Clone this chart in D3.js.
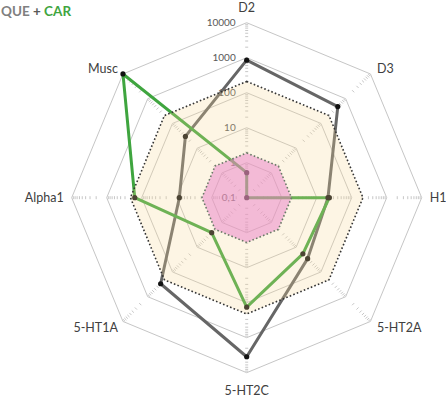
<!DOCTYPE html>
<html><head><meta charset="utf-8">
<script src="https://cdn.jsdelivr.net/npm/d3@7"></script>
<style>html,body{margin:0;padding:0;background:#fff;}svg{display:block;}</style>
</head><body>
<svg id="chart" width="446" height="396"></svg>
<script>
const axes = ["D2","D3","H1","5-HT2A","5-HT2C","5-HT1A","Alpha1","Musc"];
const que = [850, 480, 21, 29, 3500, 300, 8.4, 30];
const car = [0.52, 0.1, 23, 18.6, 134, 2.6, 158, 10000];
const pinkLevel = 1.9;
const yellowLevel = 210;
const tickValues = [0.1, 1, 10, 100, 1000, 10000];
const tickLabels = ["0,1","1","10","100","1000","10000"];

const svg = d3.select("#chart");
const cx = 246.7, cy = 197.7, R = 175;
const r = d3.scaleLog().domain([0.1, 10000]).range([0, R]);
const ang = d3.scaleLinear().domain([0, axes.length]).range([0, 2*Math.PI]);
const pt = (i, v) => [cx + r(v)*Math.sin(ang(i)), cy - r(v)*Math.cos(ang(i))];
const line = d3.line().curve(d3.curveLinearClosed);

// rings
const g = svg.append("g");
tickValues.slice(1).forEach(t => {
  g.append("path").attr("d", line(axes.map((a,i)=>pt(i,t))))
   .attr("fill","none").attr("stroke","#c6c6c6").attr("stroke-width",1);
});
// minor ticks along axes
const minors = [];
for (let d=-1; d<=3; d++) for (let m=2; m<=9; m++) minors.push(m*Math.pow(10,d));
axes.forEach((a,i)=>{
  const th = ang(i);
  const px = Math.cos(th), py = Math.sin(th);
  minors.forEach(v=>{
    const [x,y] = pt(i,v);
    g.append("line").attr("x1",x-px*1.5).attr("y1",y-py*1.5)
     .attr("x2",x+px*1.5).attr("y2",y+py*1.5)
     .attr("stroke","#c6c6c6").attr("stroke-width",1);
  });
});
// tick labels
tickValues.forEach((t,k)=>{
  svg.append("text").attr("x", cx-11).attr("y", cy - r(t) + 3.5)
    .attr("text-anchor","end").attr("font-family","Lato, 'Open Sans', sans-serif")
    .attr("font-size",10).attr("fill","#595959").text(tickLabels[k]);
});
// axis labels
axes.forEach((a,i)=>{
  const [x,y] = pt(i,10000);
  const s = Math.sin(ang(i)), c = Math.cos(ang(i));
  let anchor = "middle", dx = 0, dy = 0;
  if (s > 0.1) { anchor="start"; dx = Math.abs(c)<0.1 ? 8 : 6.5; }
  else if (s < -0.1) { anchor="end"; dx = Math.abs(c)<0.1 ? -8 : -5; }
  if (c > 0.9) dy = -14.7; else if (c < -0.9) dy = 17.5;
  else if (c > 0.1) dy = -5; else if (c < -0.1) dy = 6;
  svg.append("text").attr("x", x+dx).attr("y", y+dy+4.3)
    .attr("text-anchor",anchor).attr("font-family","Lato, 'Open Sans', sans-serif")
    .attr("font-size",12.5).attr("fill","#404040").text(a);
});

// series lines
const series = [{vals:que, color:"#666666"},{vals:car, color:"#3fa53f"}];
series.forEach(s=>{
  svg.append("path").attr("d", line(s.vals.map((v,i)=>pt(i,v))))
    .attr("fill","none").attr("stroke",s.color).attr("stroke-width",3)
    .attr("stroke-linejoin","round");
});
series.forEach(s=>{
  s.vals.forEach((v,i)=>{
    const [x,y]=pt(i,v);
    svg.append("circle").attr("cx",x).attr("cy",y).attr("r",2.6).attr("fill","#111");
  });
});

// shaded reference zones (semi-transparent, on top)
svg.append("path").attr("d", line(axes.map((a,i)=>pt(i,yellowLevel))))
  .attr("fill","#f7d897").attr("fill-opacity",0.26)
  .attr("stroke","#333").attr("stroke-width",1.6).attr("stroke-dasharray","1.6,2.2");
svg.append("path").attr("d", line(axes.map((a,i)=>pt(i,pinkLevel))))
  .attr("fill","#ea80c8").attr("fill-opacity",0.5)
  .attr("stroke","#6b7a68").attr("stroke-width",1.6).attr("stroke-dasharray","1.6,2.2");

// title
const title = svg.append("text").attr("x",1).attr("y",16)
  .attr("font-family","Lato, 'Open Sans', sans-serif").attr("font-weight","bold")
  .attr("font-size",13.5);
title.append("tspan").attr("fill","#808080").text("QUE");
title.append("tspan").attr("fill","#595959").text(" + ");
title.append("tspan").attr("fill","#3fa53f").text("CAR");
</script>
</body></html>
